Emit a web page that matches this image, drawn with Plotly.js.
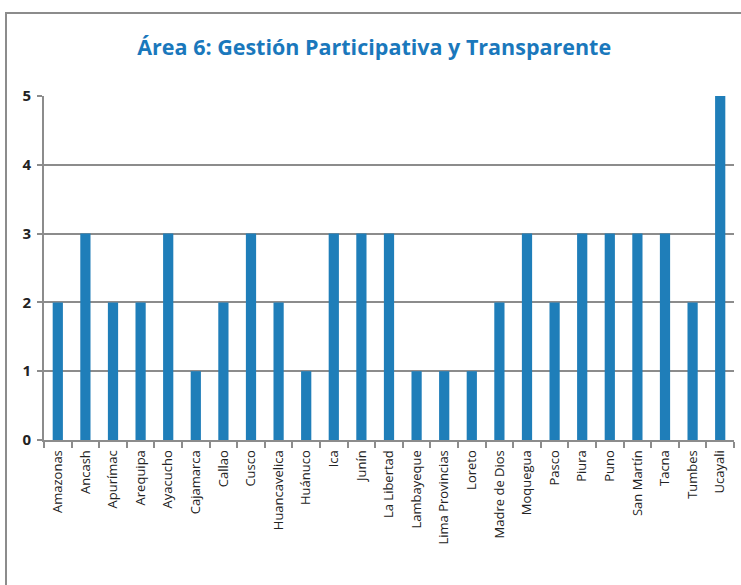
<!DOCTYPE html>
<html><head><meta charset="utf-8">
<script src="https://cdn.plot.ly/plotly-3.0.1.min.js"></script>
<style>
html,body{margin:0;padding:0;overflow:hidden;background:#fff;}
#wrap{position:relative;width:741px;height:585px;}
#chart{position:absolute;left:0;top:0;width:741px;height:585px;}
#frame{position:absolute;left:5px;top:12px;width:800px;height:700px;border:2px solid #8c8c8c;pointer-events:none;}
</style></head>
<body>
<div id="wrap"><div id="chart"></div><div id="frame"></div></div>
<script>
const regiones = ["Amazonas","Ancash","Apurímac","Arequipa","Ayacucho","Cajamarca","Callao","Cusco","Huancavelica","Huánuco","Ica","Junín","La Libertad","Lambayeque","Lima Provincias","Loreto","Madre de Dios","Moquegua","Pasco","Piura","Puno","San Martín","Tacna","Tumbes","Ucayali"];
const valores = [2,3,2,2,3,1,2,3,2,1,3,3,3,1,1,1,2,3,2,3,3,3,3,2,5];
const yTicks = [0,1,2,3,4,5];

Plotly.newPlot('chart', [{
  type:'bar', x:regiones, y:valores,
  marker:{color:'#1f7eb9'}, hoverinfo:'skip'
}], {
  width:741, height:585,
  margin:{l:44, r:7, t:96, b:145},
  paper_bgcolor:'#fff', plot_bgcolor:'#fff',
  bargap:0.63,
  showlegend:false,
  title:{text:'<b>Área 6: Gestión Participativa y Transparente</b>', x:0.505, xanchor:'center', y:0.918, yanchor:'middle',
    font:{family:'Open Sans, sans-serif', size:21.5, color:'#1a78bc'}},
  xaxis:{type:'category', tickangle:-90, tickson:'boundaries', ticks:'outside', ticklen:6, tickwidth:2, tickcolor:'#8c8c8c',
    showline:true, linecolor:'#8c8c8c', linewidth:2, showgrid:false, ticklabelstandoff:3,
    tickfont:{family:'Open Sans, sans-serif', size:13, color:'#222'}, fixedrange:true},
  yaxis:{range:[0,5], tickvals:yTicks, ticktext:yTicks.map(String), ticks:'outside', ticklen:5, tickwidth:2, tickcolor:'#8c8c8c',
    showline:true, linecolor:'#8c8c8c', linewidth:2, showgrid:true, gridcolor:'#8c8c8c', gridwidth:2, zeroline:false,
    ticklabelstandoff:3,
    tickfont:{family:'Open Sans, sans-serif', size:15, color:'#222', weight:'bold'}, fixedrange:true}
}, {displayModeBar:false, staticPlot:true});
</script>
</body></html>
